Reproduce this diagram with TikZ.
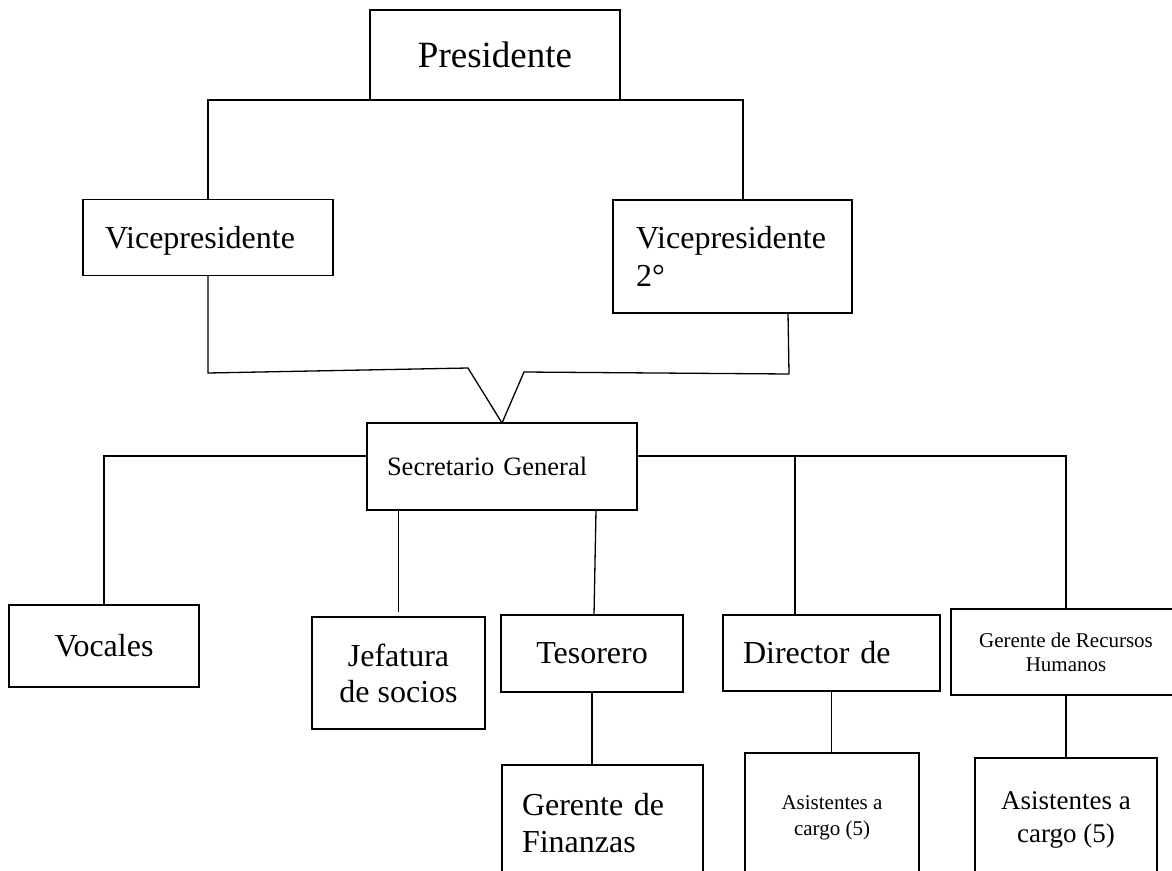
\documentclass[tikz,border=0pt]{standalone}
\usepackage{fontspec}
\setmainfont{Liberation Serif}
\usetikzlibrary{calc}
\tikzset{
  box/.style={draw=black, line width=1.8pt, rectangle, inner sep=0pt, outer sep=0pt, fill=white},
  conn/.style={draw=black, line width=1.3pt},
  big/.style={font=\fontsize{37}{42}\selectfont},
  mid/.style={font=\fontsize{32}{37}\selectfont},
}
\begin{document}
\begin{tikzpicture}[x=1pt,y=-1pt]
\useasboundingbox (0,0) rectangle (1172,870);
\fill[white] (0,0) rectangle (1172,870);
\clip (0,0) rectangle (1172,870);

% Level 1
\node[box, big, minimum width=250, minimum height=90] (pres) at (495,55) {Presidente};

% Level 2
\node[box, mid, minimum width=250, minimum height=76, text width=206, align=left, text height=21pt, text depth=0pt] (vp1) at (208,237.5) {Vicepresidente};
\node[box, mid, minimum width=239, minimum height=113, text width=193, align=left, font=\fontsize{32}{38}\selectfont] (vp2) at (732.5,256.5) {Vicepresidente\\2°};

% Level 3
\node[box, font=\fontsize{26.5}{30}\selectfont, minimum width=270, minimum height=87, text width=230, align=left] (sg) at (502,466.5) {Secretario General};

% Level 4
\node[box, mid, minimum width=190, minimum height=82] (voc) at (104,646) {Vocales};
\node[box, mid, minimum width=173, minimum height=112, align=center, font=\fontsize{32}{36}\selectfont] (jef) at (398.5,673) {Jefatura\\de socios};
\node[box, mid, minimum width=182, minimum height=77] (tes) at (592,653.5) {Tesorero};
\node[box, mid, minimum width=217, minimum height=76, text width=177, align=left] (dir) at (831.5,653) {Director de};
\node[box, minimum width=230, minimum height=86, align=center, font=\fontsize{21}{24}\selectfont, text depth=0pt] (rrhh) at (1066,652) {Gerente de Recursos\\Humanos};

% Level 5 (cut off at the bottom)
\node[box, minimum width=201, minimum height=116, text width=161, align=left, font=\fontsize{32}{37}\selectfont] (gf) at (602.5,823) {Gerente de\\Finanzas};
\node[box, minimum width=174, minimum height=130, align=center, font=\fontsize{21}{26}\selectfont] (as1) at (832,818) {Asistentes a\\cargo (5)};
\node[box, minimum width=182, minimum height=124, align=center, font=\fontsize{27}{33}\selectfont] (as2) at (1066,820) {Asistentes a\\cargo (5)};

% Connectors: Presidente -> vicepresidentes
\draw[conn] (vp1.north) |- (pres.south);
\draw[conn] (pres.south) -| ([xshift=10.5pt]vp2.north);

% Vicepresidentes -> Secretario General
\coordinate (vl) at (208,373);
\coordinate (va) at (468,368);
\coordinate (vb) at (524,372);
\coordinate (vr) at (789,374);
\draw[conn] (vp1.south) -- (vl) -- (va) -- (sg.north) -- (vb) -- (vr) -- ([xshift=55.5pt]vp2.south);

% Secretario General -> level 4
\draw[conn] ([yshift=10.5pt]sg.west) -| (voc.north);
\draw[conn] ([yshift=10.5pt]sg.east) -| (rrhh.north);
\coordinate (dtop) at (795,456);
\draw[conn] ([xshift=-36.5pt]dir.north) -- (dtop);
\draw[conn] ([yshift=5pt]jef.north) -- (jef.north |- sg.south);
\draw[conn] ([xshift=2pt]tes.north) -- ([xshift=4pt]tes.north |- sg.south);

% Level 4 -> level 5
\draw[conn] (tes.south) -- (tes.south |- gf.north);
\draw[conn] (dir.south) -- (dir.south |- as1.north);
\draw[conn] (as2.north |- rrhh.south) -- (as2.north);
\end{tikzpicture}
\end{document}
